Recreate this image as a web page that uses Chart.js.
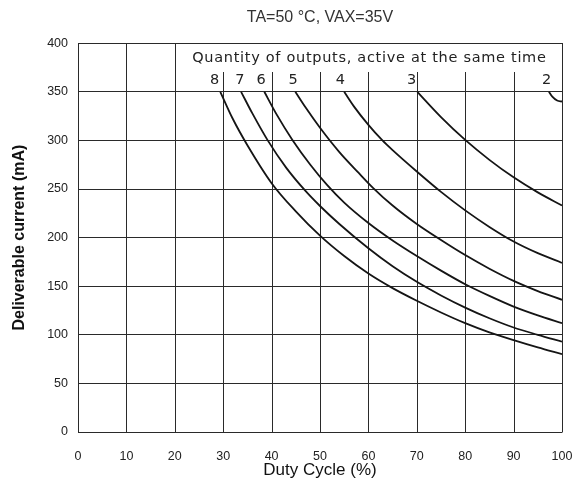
<!DOCTYPE html>
<html>
<head>
<meta charset="utf-8">
<script src="https://cdn.jsdelivr.net/npm/chart.js@4.4.1/dist/chart.umd.min.js"></script>
<style>
  html, body { margin: 0; padding: 0; background: #fff; }
</style>
</head>
<body>
<canvas id="grafico" width="577" height="491"></canvas>
<script>
// axis ticks
const dutyTicks = [0, 10, 20, 30, 40, 50, 60, 70, 80, 90, 100];
const currentTicks = [0, 50, 100, 150, 200, 250, 300, 350, 400];

// number of outputs active at the same time, one curve each
const outputs = ['8', '7', '6', '5', '4', '3', '2'];
const labelDuty = [28.3, 33.5, 37.9, 44.5, 54.3, 69.0, 96.9];

// curves: duty cycle (%) -> current (mA)
const duty8 = [29.4, 32, 35, 40, 45, 50, 55, 60, 65, 70, 75, 80, 85, 90, 95, 100];
const current8 = [350, 322, 295, 256, 227, 202, 181, 163, 148, 135, 123, 112, 102.5, 94.5, 87, 80];
const duty7 = [33.7, 36, 39.2, 43, 47, 50, 54, 60, 65, 70, 75, 80, 85, 90, 95, 100];
const current7 = [350, 328, 300, 272, 248, 232.5, 214, 189, 170.5, 154.5, 140.5, 128, 117, 107.5, 100, 93];
const duty6 = [38.5, 41, 44.3, 48, 51.5, 55, 60, 65, 70, 75, 80, 85, 90, 95, 100];
const current6 = [350, 327, 300.5, 275, 254, 236, 215, 197, 181, 166, 152, 140, 129, 120, 112];
const duty5 = [44.9, 47, 50, 54, 58, 61, 65, 70, 75, 80, 85, 90, 95, 100];
const current5 = [350, 334, 313, 288, 266.5, 251, 233, 214, 197.5, 182, 168, 155.5, 145, 136];
const duty4 = [55, 57, 60, 62.9, 65, 70, 75, 80, 85, 90, 95, 100];
const current4 = [350, 335, 316, 300, 290, 268, 247, 228, 211, 196, 184, 174];
const duty3 = [70.1, 75, 80, 85, 90, 95, 100];
const current3 = [350, 324, 300.5, 280, 262, 246.5, 233];
const duty2 = [97.3, 98, 99, 100];
const current2 = [350, 345, 341, 340];

const dutySeries = [duty8, duty7, duty6, duty5, duty4, duty3, duty2];
const currentSeries = [current8, current7, current6, current5, current4, current3, current2];

function puntos(xs, ys) {
    return xs.map((x, i) => ({ x: x, y: ys[i] }));
}

const datasets = outputs.map((n, i) => ({
    label: n,
    data: puntos(dutySeries[i], currentSeries[i]),
    borderColor: '#151515',
    borderWidth: 1.8,
    pointRadius: 0,
    fill: false,
    cubicInterpolationMode: 'monotone'
}));

// vertical grid lines: the ones right of 20 % stop below the legend text
const gridCut = 370;
const gridPlugin = {
    id: 'gridPlugin',
    beforeDatasetsDraw(chart) {
        const ctx = chart.ctx;
        const x = chart.scales.x;
        const y = chart.scales.y;
        ctx.save();
        ctx.strokeStyle = '#2a2a2a';
        ctx.lineWidth = 1;
        dutyTicks.forEach(v => {
            const px = Math.round(x.getPixelForValue(v)) + 0.5;
            const top = (v > 20 && v < 100) ? y.getPixelForValue(gridCut) : y.getPixelForValue(400);
            ctx.beginPath();
            ctx.moveTo(px, Math.round(y.getPixelForValue(0)) + 0.5);
            ctx.lineTo(px, Math.round(top));
            ctx.stroke();
        });
        ctx.restore();
    },
    afterDatasetsDraw(chart) {
        const ctx = chart.ctx;
        const x = chart.scales.x;
        const y = chart.scales.y;
        ctx.save();
        ctx.fillStyle = '#222';
        ctx.textAlign = 'center';
        ctx.textBaseline = 'middle';
        ctx.font = '14.5px "DejaVu Sans"';
        ctx.letterSpacing = '0.7px';
        ctx.fillText('Quantity of outputs, active at the same time', x.getPixelForValue(60.2), y.getPixelForValue(385));
        outputs.forEach((n, i) => {
            ctx.fillText(n, x.getPixelForValue(labelDuty[i]), y.getPixelForValue(362));
        });
        ctx.restore();
    }
};

const tickFont = { family: '"Liberation Sans", Arial', size: 12.5 };

new Chart(document.getElementById('grafico'), {
    type: 'line',
    data: { datasets: datasets },
    options: {
        responsive: false,
        animation: false,
        devicePixelRatio: 1,
        layout: { padding: { left: 0, right: 15, top: 0, bottom: 0 } },
        plugins: {
            legend: { display: false },
            tooltip: { enabled: false },
            title: {
                display: true,
                fullSize: false,
                text: 'TA=50 °C, VAX=35V',
                color: '#333',
                font: { family: '"Liberation Sans", Arial', size: 16, weight: 'normal' },
                padding: { top: 8, bottom: 16 }
            }
        },
        scales: {
            x: {
                type: 'linear',
                min: 0,
                max: 100,
                afterFit: s => { s.height = 59; s.paddingLeft = 0; s.paddingRight = 0; },
                afterBuildTicks: s => { s.ticks = dutyTicks.map(v => ({ value: v })); },
                ticks: { color: '#222', font: tickFont, padding: 9, maxRotation: 0 },
                grid: { display: false },
                border: { display: false },
                title: {
                    display: true,
                    text: 'Duty Cycle (%)',
                    color: '#111',
                    font: { family: '"Liberation Sans", Arial', size: 17 },
                    padding: { top: 0, bottom: 10 }
                }
            },
            y: {
                min: 0,
                max: 400,
                afterFit: s => { s.width = 78; },
                afterBuildTicks: s => { s.ticks = currentTicks.map(v => ({ value: v })); },
                ticks: { color: '#222', font: tickFont, padding: 10 },
                grid: { color: '#2a2a2a', lineWidth: 1, drawTicks: false },
                border: { display: false },
                title: {
                    display: true,
                    text: 'Deliverable current (mA)',
                    color: '#111',
                    font: { family: '"Liberation Sans", Arial', size: 16, weight: 'bold' },
                    padding: { top: 10, bottom: 0 }
                }
            }
        }
    },
    plugins: [gridPlugin]
});
</script>
</body>
</html>
